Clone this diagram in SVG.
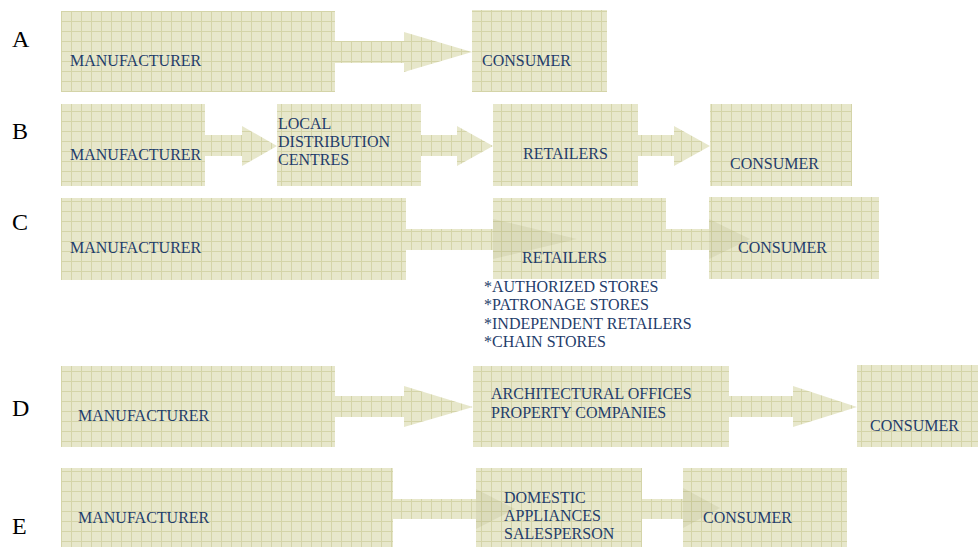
<svg xmlns="http://www.w3.org/2000/svg" width="978" height="547" viewBox="0 0 978 547">
  <defs>
    <!-- khaki graph-paper fill shared by boxes and block arrows -->
    <pattern id="grid" patternUnits="userSpaceOnUse" x="1" y="1" width="10" height="10">
      <rect width="10" height="10" fill="#e7e7cb"/>
      <path d="M0 0.5H10M0.5 0V10" stroke="#d4d4a8" stroke-width="1" fill="none"/>
    </pattern>
  </defs>
  <style>
    .box { fill: url(#grid); }
    .arrow { fill: url(#grid); }
    .shade { fill: #7a7a30; fill-opacity: 0.1; }
    .lbl { font-family: "Liberation Serif", "Times New Roman", serif; font-size: 16px; fill: #1f3d6b; }
    .row { font-family: "Liberation Serif", "Times New Roman", serif; font-size: 24px; fill: #000; }
  </style>
  <rect width="978" height="547" fill="#fff"/>

  <!-- row letters -->
  <g id="row-letters">
    <text class="row" x="12" y="47">A</text>
    <text class="row" x="12" y="139">B</text>
    <text class="row" x="12" y="230">C</text>
    <text class="row" x="12" y="416">D</text>
    <text class="row" x="12" y="534">E</text>
  </g>

  <!-- Row A -->
  <g id="a-manufacturer">
    <rect class="box" x="61" y="11" width="274" height="81"/>
    <text class="lbl" x="70" y="66">MANUFACTURER</text>
  </g>
  <g id="a-consumer">
    <rect class="box" x="472" y="10" width="135" height="82"/>
    <text class="lbl" x="482" y="66">CONSUMER</text>
  </g>

  <!-- Row B -->
  <g id="b-manufacturer">
    <rect class="box" x="61" y="104" width="144" height="82"/>
    <text class="lbl" x="70" y="160">MANUFACTURER</text>
  </g>
  <g id="b-local-distribution">
    <rect class="box" x="277" y="104" width="144" height="82"/>
    <text class="lbl" x="278" y="129">LOCAL</text>
    <text class="lbl" x="278" y="147">DISTRIBUTION</text>
    <text class="lbl" x="278" y="165">CENTRES</text>
  </g>
  <g id="b-retailers">
    <rect class="box" x="493" y="104" width="145" height="82"/>
    <text class="lbl" x="523" y="159">RETAILERS</text>
  </g>
  <g id="b-consumer">
    <rect class="box" x="710" y="104" width="142" height="82"/>
    <text class="lbl" x="730" y="169">CONSUMER</text>
  </g>

  <!-- Row C -->
  <g id="c-manufacturer">
    <rect class="box" x="61" y="198" width="345" height="82"/>
    <text class="lbl" x="70" y="253">MANUFACTURER</text>
  </g>
  <g id="c-retailers">
    <rect class="box" x="493" y="198" width="173" height="81"/>
  </g>
  <g id="c-consumer">
    <rect class="box" x="709" y="197" width="170" height="82"/>
  </g>
  <g id="c-retailer-types">
    <text class="lbl" x="484" y="292">*AUTHORIZED STORES</text>
    <text class="lbl" x="484" y="310">*PATRONAGE STORES</text>
    <text class="lbl" x="484" y="329">*INDEPENDENT RETAILERS</text>
    <text class="lbl" x="484" y="347">*CHAIN STORES</text>
  </g>

  <!-- Row D -->
  <g id="d-manufacturer">
    <rect class="box" x="61" y="366" width="274" height="81"/>
    <text class="lbl" x="78" y="421">MANUFACTURER</text>
  </g>
  <g id="d-architectural">
    <rect class="box" x="473" y="366" width="256" height="81"/>
    <text class="lbl" x="491" y="399">ARCHITECTURAL OFFICES</text>
    <text class="lbl" x="491" y="418">PROPERTY COMPANIES</text>
  </g>
  <g id="d-consumer">
    <rect class="box" x="857" y="365" width="121" height="82"/>
    <text class="lbl" x="870" y="431">CONSUMER</text>
  </g>

  <!-- Row E -->
  <g id="e-manufacturer">
    <rect class="box" x="61" y="468" width="332" height="79"/>
    <text class="lbl" x="78" y="523">MANUFACTURER</text>
  </g>
  <g id="e-salesperson">
    <rect class="box" x="476" y="468" width="166" height="79"/>
  </g>
  <g id="e-consumer">
    <rect class="box" x="683" y="468" width="164" height="79"/>
  </g>

  <!-- block arrows; heads that sit on a box get a light shade on top -->
  <g id="connectors">
    <polygon class="arrow" points="335,41 404,41 404,32 472,52 404,72 404,63 335,63"/>

    <polygon class="arrow" points="205,135 242,135 242,126 277,146 242,166 242,156 205,156"/>
    <polygon class="arrow" points="421,135 457,135 457,126 493,146 457,166 457,156 421,156"/>
    <polygon class="arrow" points="638,135 674,135 674,126 710,146 674,166 674,156 638,156"/>

    <polygon class="arrow" points="406,229 493,229 493,219 577,239 493,259 493,250 406,250"/>
    <polygon class="shade" points="493,219 577,239 493,259"/>
    <polygon class="arrow" points="666,229 709,229 709,219 750,239 709,259 709,250 666,250"/>
    <polygon class="shade" points="709,219 750,239 709,259"/>

    <polygon class="arrow" points="335,396 404,396 404,386 473,407 404,427 404,417 335,417"/>
    <polygon class="arrow" points="729,396 793,396 793,386 857,407 793,427 793,417 729,417"/>

    <polygon class="arrow" points="393,499 476,499 476,489 515,509 476,529 476,519 393,519"/>
    <polygon class="shade" points="476,489 515,509 476,529"/>
    <polygon class="arrow" points="642,499 683,499 683,488 720,508 683,528 683,519 642,519"/>
    <polygon class="shade" points="683,488 720,508 683,528"/>
  </g>

  <!-- labels placed above the arrow heads that overlap their boxes -->
  <g id="c-retailers-label">
    <text class="lbl" x="522" y="263">RETAILERS</text>
  </g>
  <g id="c-consumer-label">
    <text class="lbl" x="738" y="253">CONSUMER</text>
  </g>
  <g id="e-salesperson-label">
    <text class="lbl" x="504" y="503">DOMESTIC</text>
    <text class="lbl" x="504" y="521">APPLIANCES</text>
    <text class="lbl" x="504" y="539">SALESPERSON</text>
  </g>
  <g id="e-consumer-label">
    <text class="lbl" x="703" y="523">CONSUMER</text>
  </g>
</svg>
